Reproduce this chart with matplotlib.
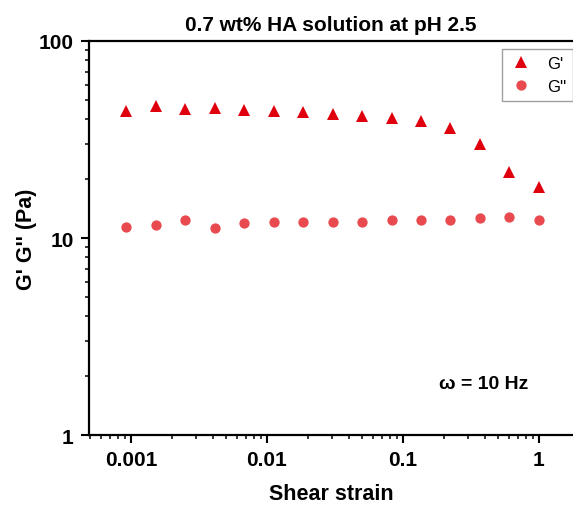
import matplotlib
matplotlib.use('Agg')
import matplotlib.pyplot as plt
from matplotlib.ticker import LogLocator, FixedLocator, NullFormatter

plt.rcParams['font.family'] = ['Liberation Sans', 'DejaVu Sans']

# shear strain sweep
strain = [0.000923, 0.00152, 0.00251, 0.00412, 0.00679, 0.0112, 0.01845,
          0.0304, 0.0500, 0.0824, 0.1358, 0.2236, 0.368, 0.607, 1.0]
g_storage = [44.3, 47.0, 45.3, 45.8, 44.8, 44.2, 43.5, 42.5, 41.6, 40.6,
             39.1, 36.1, 30.1, 21.7, 18.2]
g_loss = [11.4, 11.6, 12.35, 11.3, 11.96, 12.1, 12.1, 12.1, 12.1, 12.3,
          12.35, 12.4, 12.6, 12.8, 12.4]

x_ticks = [0.001, 0.01, 0.1, 1]
x_labels = ['0.001', '0.01', '0.1', '1']
y_ticks = [1, 10, 100]
y_labels = ['1', '10', '100']

fig = plt.figure(figsize=(5.73, 5.06), dpi=100)
ax = fig.add_axes([0.1553, 0.1383, 0.8447, 0.7787])

ax.plot(strain, g_storage, linestyle='none', marker='^', markersize=8.8,
        color='#e0000d', markeredgewidth=0, label="G'")
ax.plot(strain, g_loss, linestyle='none', marker='o', markersize=7.4,
        color='#e84a4f', markeredgewidth=0, label="G''")

ax.set_xscale('log')
ax.set_yscale('log')
ax.set_xlim(4.91e-4, 1.78)
ax.set_ylim(1, 100)

ax.xaxis.set_major_locator(FixedLocator(x_ticks))
ax.set_xticklabels(x_labels)
ax.yaxis.set_major_locator(FixedLocator(y_ticks))
ax.set_yticklabels(y_labels)
ax.xaxis.set_minor_locator(LogLocator(base=10, subs=range(2, 10), numticks=20))
ax.yaxis.set_minor_locator(LogLocator(base=10, subs=range(2, 10), numticks=20))
ax.xaxis.set_minor_formatter(NullFormatter())
ax.yaxis.set_minor_formatter(NullFormatter())

for lbl in ax.get_xticklabels() + ax.get_yticklabels():
    lbl.set_fontsize(15)
    lbl.set_fontweight('bold')

ax.tick_params(which='major', direction='out', length=6, width=1.5, pad=5)
ax.tick_params(which='minor', direction='out', length=3, width=1.1)
ax.tick_params(axis='x', which='both', top=False)
ax.tick_params(axis='y', which='both', right=False)

ax.spines['right'].set_visible(False)
for s in ['left', 'bottom', 'top']:
    ax.spines[s].set_linewidth(1.6)

ax.set_xlabel('Shear strain', fontsize=15.5, fontweight='bold', labelpad=10)
ax.set_ylabel("G' G'' (Pa)", fontsize=15.5, fontweight='bold', labelpad=1)
ax.set_title('0.7 wt% HA solution at pH 2.5', fontsize=15, fontweight='bold', pad=8)

ax.text(0.815, 0.13, '\u03c9 = 10 Hz', transform=ax.transAxes, fontsize=14,
        fontweight='bold', ha='center', va='center')

leg = ax.legend(loc='upper right', bbox_to_anchor=(1.0, 0.98), borderaxespad=0,
                fancybox=False, fontsize=12, handletextpad=0.8, borderpad=0.4,
                labelspacing=0.5, handlelength=1.5)
leg.get_frame().set_edgecolor('#888888')
leg.get_frame().set_linewidth(1.0)

fig.savefig('out.png', dpi=100)
